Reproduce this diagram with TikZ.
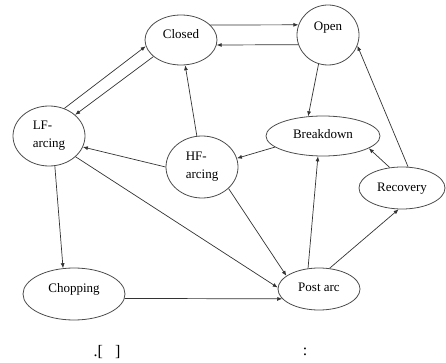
\documentclass[tikz,border=0pt]{standalone}
\usepackage{fontspec}
\setmainfont{Liberation Serif}
\usetikzlibrary{shapes.geometric,arrows.meta}
\tikzset{
  phase/.style={ellipse, draw=black!70, line width=0.8pt, inner sep=0pt,
    font=\fontsize{13}{18}\selectfont},
  oneline/.style={text height=9pt, text depth=3pt},
  trans/.style={-{Latex[length=5pt,width=4pt]}, line width=0.7pt, draw=black!80},
  caption/.style={font=\fontsize{16}{18}\selectfont}
}

\begin{document}
\begin{tikzpicture}[x=1pt, y=-1pt]
		\useasboundingbox (0,0) rectangle (446,363);
		% Define nodes
		\node[phase, oneline, minimum width=72pt, minimum height=50pt, text depth=12pt] (closed) at (181,40) {Closed};
		\node[phase, oneline, minimum width=62pt, minimum height=60pt, text depth=18pt] (open) at (328,35) {Open};
		\node[phase, align=left, minimum width=72pt, minimum height=60pt] (lf) at (49,136) {LF-\\arcing};
		\node[phase, align=left, minimum width=72pt, minimum height=62pt] (hf) at (202,167) {HF-\\arcing};
		\node[phase, oneline, minimum width=114pt, minimum height=40pt] (breakdown) at (323,136) {Breakdown};
		\node[phase, oneline, minimum width=86pt, minimum height=42pt] (recovery) at (402,188) {Recovery};
		\node[phase, oneline, minimum width=102pt, minimum height=52pt, text depth=12pt] (chopping) at (74,294) {Chopping};
		\node[phase, oneline, minimum width=82pt, minimum height=42pt, text depth=5pt] (postarc) at (319,289) {Post arc};
		
		% Caption
		\node[caption] (capl) at (107,352) {.[\hspace{12pt}]};
		\node[caption] (capr) at (305,352) {:};
		
		% Connect the nodes
		\draw[trans] (closed.27) -- (open.161);
		\draw[trans] (open.198) -- (closed.-8);
		\draw[trans] (lf.61) -- (closed.190);
		\draw[trans] (closed.211) -- (lf.39);
		\draw[trans] (hf) -- (closed);
		\draw[trans] (hf.west) -- (lf.-18);
		\draw[trans] (breakdown.193) -- (hf.14);
		\draw[trans] (open.252) -- (breakdown.127);
		\draw[trans] (recovery.74) -- (open.-20);
		\draw[trans] (recovery.121) -- (breakdown.-15);
		\draw[trans] (postarc.118) -- (breakdown.256);
		\draw[trans] (postarc.63) -- (recovery.261);
		\draw[trans] (hf.-39) -- (postarc.158);
		\draw[trans] (lf.-38) -- (postarc.178);
		\draw[trans] (lf.281) -- (chopping.113);
		\draw[trans] (chopping.-5) -- (postarc.195);
	\end{tikzpicture}
\end{document}
